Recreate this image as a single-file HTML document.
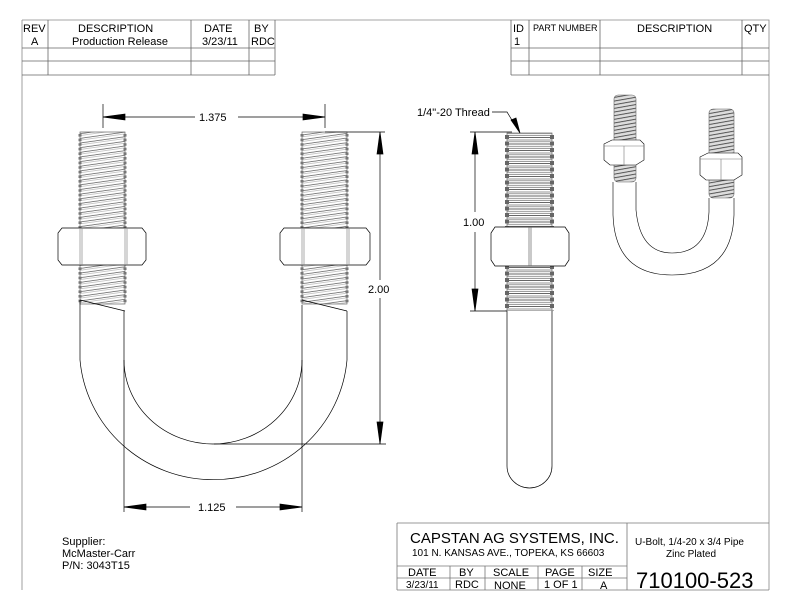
<!DOCTYPE html>
<html><head><meta charset="utf-8"><style>
html,body{margin:0;padding:0;background:#fff;}
svg{display:block;}
text{font-family:"Liberation Sans",sans-serif;fill:#000;}
</style></head><body>
<svg width="792" height="612" viewBox="0 0 792 612" xmlns="http://www.w3.org/2000/svg">
<defs>
<pattern id="th" width="12" height="4.6" patternUnits="userSpaceOnUse" patternTransform="rotate(-8)">
<rect width="12" height="4.6" fill="#fff"/>
<line x1="0" y1="1" x2="12" y2="1" stroke="#555" stroke-width="0.7"/>
<line x1="0" y1="2.8" x2="12" y2="2.8" stroke="#aaa" stroke-width="0.6"/>
</pattern>
<pattern id="th2" width="20" height="6.5" patternUnits="userSpaceOnUse">
<rect width="20" height="6.5" fill="#fff"/>
<line x1="0" y1="1" x2="20" y2="1" stroke="#333" stroke-width="0.8"/>
<line x1="0" y1="3.5" x2="20" y2="3.5" stroke="#aaa" stroke-width="1.2"/>
<line x1="0" y1="5.3" x2="20" y2="5.3" stroke="#666" stroke-width="0.7"/>
</pattern>
<pattern id="th3" width="12" height="3.6" patternUnits="userSpaceOnUse" patternTransform="rotate(-10)">
<rect width="12" height="3.6" fill="#ddd"/>
<line x1="0" y1="1" x2="12" y2="1" stroke="#444" stroke-width="0.9"/>
</pattern>
</defs>
<g fill="none" stroke="#000" stroke-width="0.8">
<path d="M22 20 H769 V590 M22 20 V590" stroke="#888"/>
<path d="M22 48 H275 M22 61 H275 M22 75 H275 M48 20 V75 M191 20 V75 M249 20 V75 M275 20 V75" stroke="#666"/>
<path d="M511 48 H769 M511 61 H769 M511 75 H769 M511 20 V75 M529 20 V75 M600 20 V75 M742 20 V75" stroke="#666"/>
<path d="M397 523 H769 M397 566 H627 M397 578 H627 M397 590 H769 M397 523 V590 M450 566 V590 M485 566 V590 M538 566 V590 M582 566 V590 M627 523 V590" stroke="#777"/>
</g>
<g font-size="11">
<text x="23" y="32">REV</text><text x="78" y="32">DESCRIPTION</text><text x="204" y="32">DATE</text><text x="254" y="32">BY</text>
<text x="31" y="45">A</text><text x="72" y="45">Production Release</text><text x="202" y="45">3/23/11</text><text x="251" y="45">RDC</text>
<text x="513" y="32">ID</text><text x="533" y="31" font-size="9">PART NUMBER</text><text x="637" y="32">DESCRIPTION</text><text x="744" y="32">QTY</text>
<text x="514" y="45">1</text>
</g>
<!-- LEFT VIEW -->
<g stroke="#000" stroke-width="0.7">
<rect x="80" y="132" width="45" height="172" fill="url(#th)" stroke="#666"/>
<rect x="302" y="132" width="45" height="172" fill="url(#th)" stroke="#666"/>
<path d="M80 134 V304 M125 134 V304 M302 134 V304 M347 134 V304" stroke="#777" stroke-width="3" stroke-dasharray="2.6 2" fill="none"/>
<path d="M80 300 L125 311 M302 300 L347 311" fill="none"/>
<path d="M62 228 H142 L146 233 V260 L142 265 H62 L58 260 V233 Z" fill="#fff"/>
<path d="M80 228 V265 M82 228 V265 M125 228 V265 M127 228 V265" stroke="#888"/>
<path d="M284 228 H366 L370 233 V260 L366 265 H284 L280 260 V233 Z" fill="#fff"/>
<path d="M302 228 V265 M304 228 V265 M347 228 V265 M349 228 V265" stroke="#888"/>
<path d="M80 300 V360 A134 131 0 0 0 347 360 V311" fill="none"/>
<path d="M124 311 V360 A89 84 0 0 0 302 360" fill="none"/>
<path d="M124 360 V512 M302 305 V512" fill="none"/>
<path d="M103 104 V128 M325 104 V128" fill="none"/>
<path d="M103 117 H195 M238 117 H325" fill="none"/>
<path d="M325 132 H385 M214 444 H386 M380 132 V280 M380 298 V444 M124 507 H190 M236 507 H302" fill="none"/>
<path d="M103 117 L125 114 L125 120 Z M325 117 L303 114 L303 120 Z M380 132 L377 154 L383 154 Z M380 444 L377 422 L383 422 Z M124 507 L146 504 L146 510 Z M302 507 L280 504 L280 510 Z" fill="#000"/>
</g>
<g font-size="11">
<text x="199" y="121">1.375</text>
<text x="368" y="293">2.00</text>
<text x="198" y="511">1.125</text>
<text x="62" y="545">Supplier:</text>
<text x="62" y="557">McMaster-Carr</text>
<text x="62" y="569">P/N: 3043T15</text>
</g>
<!-- MIDDLE VIEW -->
<g stroke="#000" stroke-width="0.7">
<rect x="507" y="133" width="45" height="178" fill="url(#th2)" stroke="#666"/>
<path d="M507 135 V311 M552 135 V311" stroke="#666" stroke-width="4" stroke-dasharray="4 2.5" fill="none"/>
<path d="M507 311 V466 A22.5 22 0 0 0 552 466 V311" fill="#fff"/>
<path d="M495 227 H565 L569 233 V260 L565 266 H495 L491 260 V233 Z" fill="#fff"/>
<path d="M529 227 V266 M531 227 V266" stroke="#666"/>
<path d="M470 132 H512 M470 311 H507 M475 132 V212 M475 232 V311" fill="none"/>
<path d="M475 132 L472 154 L478 154 Z M475 311 L472 289 L478 289 Z" fill="#000"/>
<path d="M492 112 H507 L518 130" fill="none"/>
<path d="M520 133 L511 120 L516 118 Z" fill="#000"/>
</g>
<g font-size="11">
<text x="463" y="226">1.00</text>
<text x="417" y="116">1/4"-20 Thread</text>
</g>
<!-- ISO VIEW -->
<g stroke="#000" stroke-width="0.6">
<rect x="614" y="95" width="22" height="87" rx="4" fill="url(#th3)" stroke="#666"/>
<rect x="709" y="109" width="25" height="89" rx="4" fill="url(#th3)" stroke="#666"/>
<path d="M613 182 V215 Q615 275 672 275 Q732 275 734 215 V198" fill="none"/>
<path d="M636 182 V210 Q640 253 672 253 Q707 253 709 212 V198" fill="none"/>
<path d="M604 144 L612 140 H640 L644 144 V160 L636 165 H610 L604 160 Z" fill="#fff"/>
<path d="M624 146 V165 M604 146 H644" stroke="#777"/>
<path d="M700 157 L708 153 H738 L742 157 V175 L734 180 H706 L700 175 Z" fill="#fff"/>
<path d="M721 159 V180 M700 159 H742" stroke="#777"/>
</g>
<g>
<text x="410" y="543" font-size="15">CAPSTAN AG SYSTEMS, INC.</text>
<text x="412" y="556" font-size="10">101 N. KANSAS AVE., TOPEKA, KS 66603</text>
<text x="635" y="545" font-size="10">U-Bolt, 1/4-20 x 3/4 Pipe</text>
<text x="666" y="557" font-size="10">Zinc Plated</text>
<text x="408" y="576" font-size="11">DATE</text><text x="459" y="576" font-size="11">BY</text><text x="493" y="576" font-size="11">SCALE</text><text x="545" y="576" font-size="11">PAGE</text><text x="588" y="576" font-size="11">SIZE</text>
<text x="406" y="588" font-size="10">3/23/11</text><text x="455" y="588" font-size="11">RDC</text><text x="494" y="589" font-size="11">NONE</text><text x="544" y="588" font-size="11">1 OF 1</text><text x="600" y="589" font-size="11">A</text>
<text x="636" y="588" font-size="22">710100-523</text>
</g>
</svg>
</body></html>
